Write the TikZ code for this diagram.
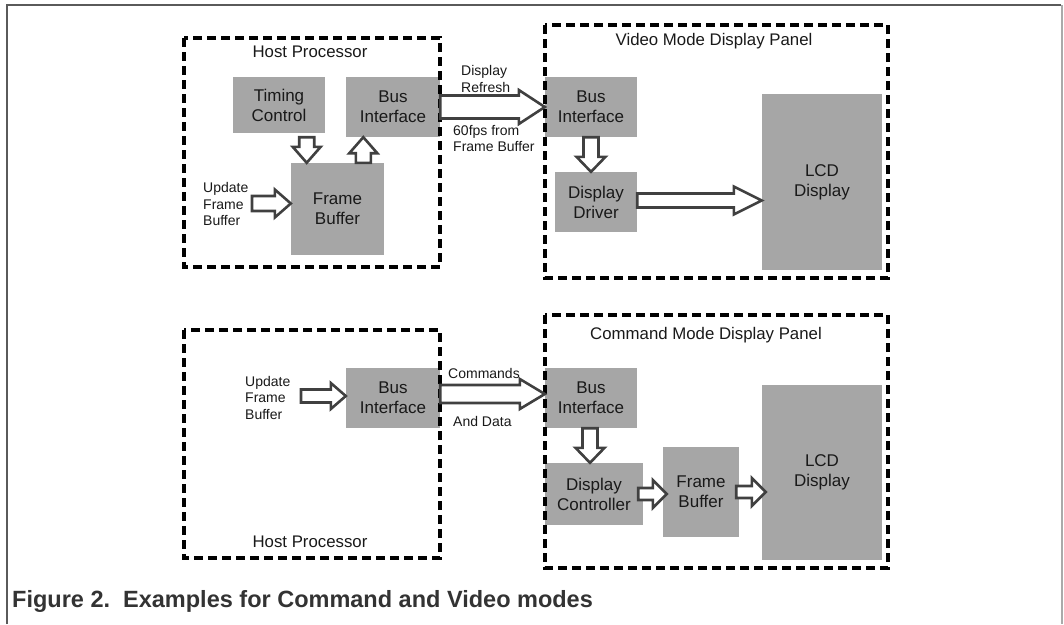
\documentclass[tikz,border=0pt]{standalone}
\usepackage{fontspec}
\setmainfont{Liberation Sans}
\usetikzlibrary{calc}

\definecolor{boxgray}{RGB}{166,166,166}
\definecolor{arrowgray}{RGB}{64,64,64}
\definecolor{inkgray}{RGB}{25,25,25}
\definecolor{framegray}{RGB}{90,90,90}
\definecolor{edgegray}{RGB}{170,170,170}
\definecolor{captiongray}{RGB}{51,51,51}

\begin{document}
\begin{tikzpicture}[x=1pt,y=-1pt,
  box/.style={fill=boxgray, draw=none, inner sep=0pt, align=center, text=inkgray,
    font=\fontsize{17}{20}\selectfont},
  panel/.style={draw=black, line width=3.1pt, dash pattern=on 9pt off 5pt},
  paneltitle/.style={anchor=base, inner sep=0pt, text=inkgray,
    font=\fontsize{16.8}{20}\selectfont},
  note/.style={anchor=west, inner sep=0pt, align=left, text=inkgray,
    font=\fontsize{14}{16.5}\selectfont},
  % hollow block arrow: #1 shaft half width, #2 head half width, #3 head length
  blockarrow/.style n args={3}{draw=arrowgray, fill=white, line width=2.6pt, line join=miter,
    to path={let \p1=(\tikztostart), \p2=(\tikztotarget),
      \n1={atan2(\y2-\y1,\x2-\x1)}, \n2={veclen(\x2-\x1,\y2-\y1)} in
      [shift={(\p1)}, rotate=\n1]
      (0,#1) -- (\n2-#3,#1) -- (\n2-#3,#2) -- (\n2,0) -- (\n2-#3,-#2)
      -- (\n2-#3,-#1) -- (0,-#1) -- cycle}}
]
\useasboundingbox (0,0) rectangle (1064,624);

% page frame
\draw[framegray, line width=1.3pt] (7,624) -- (7,5) -- (1061,5);
\draw[edgegray, line width=2pt] (1062,5) -- (1062,624);

% ---------- video mode: host side ----------
\node[box, minimum width=92, minimum height=56] (tc) at (279,105) {Timing\\Control};
\node[box, minimum width=94, minimum height=60] (hbusA) at (393,107) {Bus\\Interface};
\node[box, minimum width=93, minimum height=92] (fbA) at (337.5,209) {Frame\\Buffer};
\node[note] (updA) at (203,204) {Update\\Frame\\Buffer};
\coordinate (updAtail) at (252,203.5);

% ---------- video mode: panel side ----------
\node[box, minimum width=92, minimum height=60] (vbus) at (591,107) {Bus\\Interface};
\node[box, minimum width=82, minimum height=60] (vdd) at (596,202) {Display\\Driver};
\node[box, minimum width=120, minimum height=176] (lcdA) at (822,182) {LCD\\Display};

% ---------- command mode: host side ----------
\node[box, minimum width=94, minimum height=60] (hbusB) at (393,398) {Bus\\Interface};
\node[note] (updB) at (245,397.5) {Update\\Frame\\Buffer};
\coordinate (updBtail) at (301,396);

% ---------- command mode: panel side ----------
\node[box, minimum width=92, minimum height=60] (cbus) at (591,398) {Bus\\Interface};
\node[box, minimum width=98, minimum height=62] (cdc) at (594,494) {Display\\Controller};
\node[box, minimum width=76, minimum height=90] (cfb) at (701,492) {Frame\\Buffer};
\node[box, minimum width=120, minimum height=175] (lcdB) at (822,472.5) {LCD\\Display};

% dashed outlines of the four blocks
\draw[panel] (184,38) rectangle (440,267);
\draw[panel] (545,25) rectangle (888,278);
\draw[panel] (184,330) rectangle (440,558);
\draw[panel] (545,315) rectangle (888,568);

\node[paneltitle] (hostAtitle) at (310,57) {Host Processor};
\node[paneltitle] (vidtitle) at (714,45.5) {Video Mode Display Panel};
\node[paneltitle] (hostBtitle) at (310,547) {Host Processor};
\node[paneltitle] (cmdtitle) at (706,339) {Command Mode Display Panel};

% arrow labels
\node[note] (refresh) at (461,79) {Display\\Refresh};
\node[note] (fps) at (453,138.5) {60fps from\\Frame Buffer};
\node[note] (cmds) at (448,373) {Commands};
\node[note] (anddata) at (453,421) {And Data};

% ---------- arrows ----------
\draw[blockarrow={7.5}{14}{16}] (updAtail) to (fbA.west |- updAtail);
\draw[blockarrow={7.5}{14}{16}] ([xshift=27.7pt]tc.south |- hbusA.south) to ([xshift=27.7pt]tc.south |- fbA.north);
\draw[blockarrow={7.5}{14}{16}] ([xshift=-29.7pt]hbusA.south |- fbA.north) to ([xshift=-29.7pt]hbusA.south);
\draw[blockarrow={11.5}{17}{26}] (hbusA.east) to (vbus.west);
\draw[blockarrow={7.5}{14.5}{15}] (vbus.south) to (vbus.south |- vdd.north);
\draw[blockarrow={7}{14}{28}] ([yshift=1.5pt]vdd.east) to ([yshift=1.5pt]vdd.east -| lcdA.west);

\draw[blockarrow={6.5}{13}{15}] (updBtail) to (hbusB.west |- updBtail);
\draw[blockarrow={9}{15}{25}] ([yshift=4pt]hbusB.east) to ([yshift=4pt]cbus.west);
\draw[blockarrow={7.5}{14.5}{15}] ([xshift=-1pt]cbus.south) to ([xshift=-1pt]cbus.south |- cdc.north);
\draw[blockarrow={6}{14}{14}] ([xshift=-5pt]cdc.east) to ([xshift=4pt]cfb.west |- cdc.east);
\draw[blockarrow={6}{14}{14}] ([xshift=-3pt]cfb.east) to ([xshift=4pt]lcdB.west |- cfb.east);

% caption
\node[anchor=base west, inner sep=0pt, text=captiongray,
  font=\fontsize{23.5}{28}\selectfont\bfseries] (caption) at (12,607)
  {Figure 2.\ \ Examples for Command and Video modes};
\end{tikzpicture}
\end{document}
